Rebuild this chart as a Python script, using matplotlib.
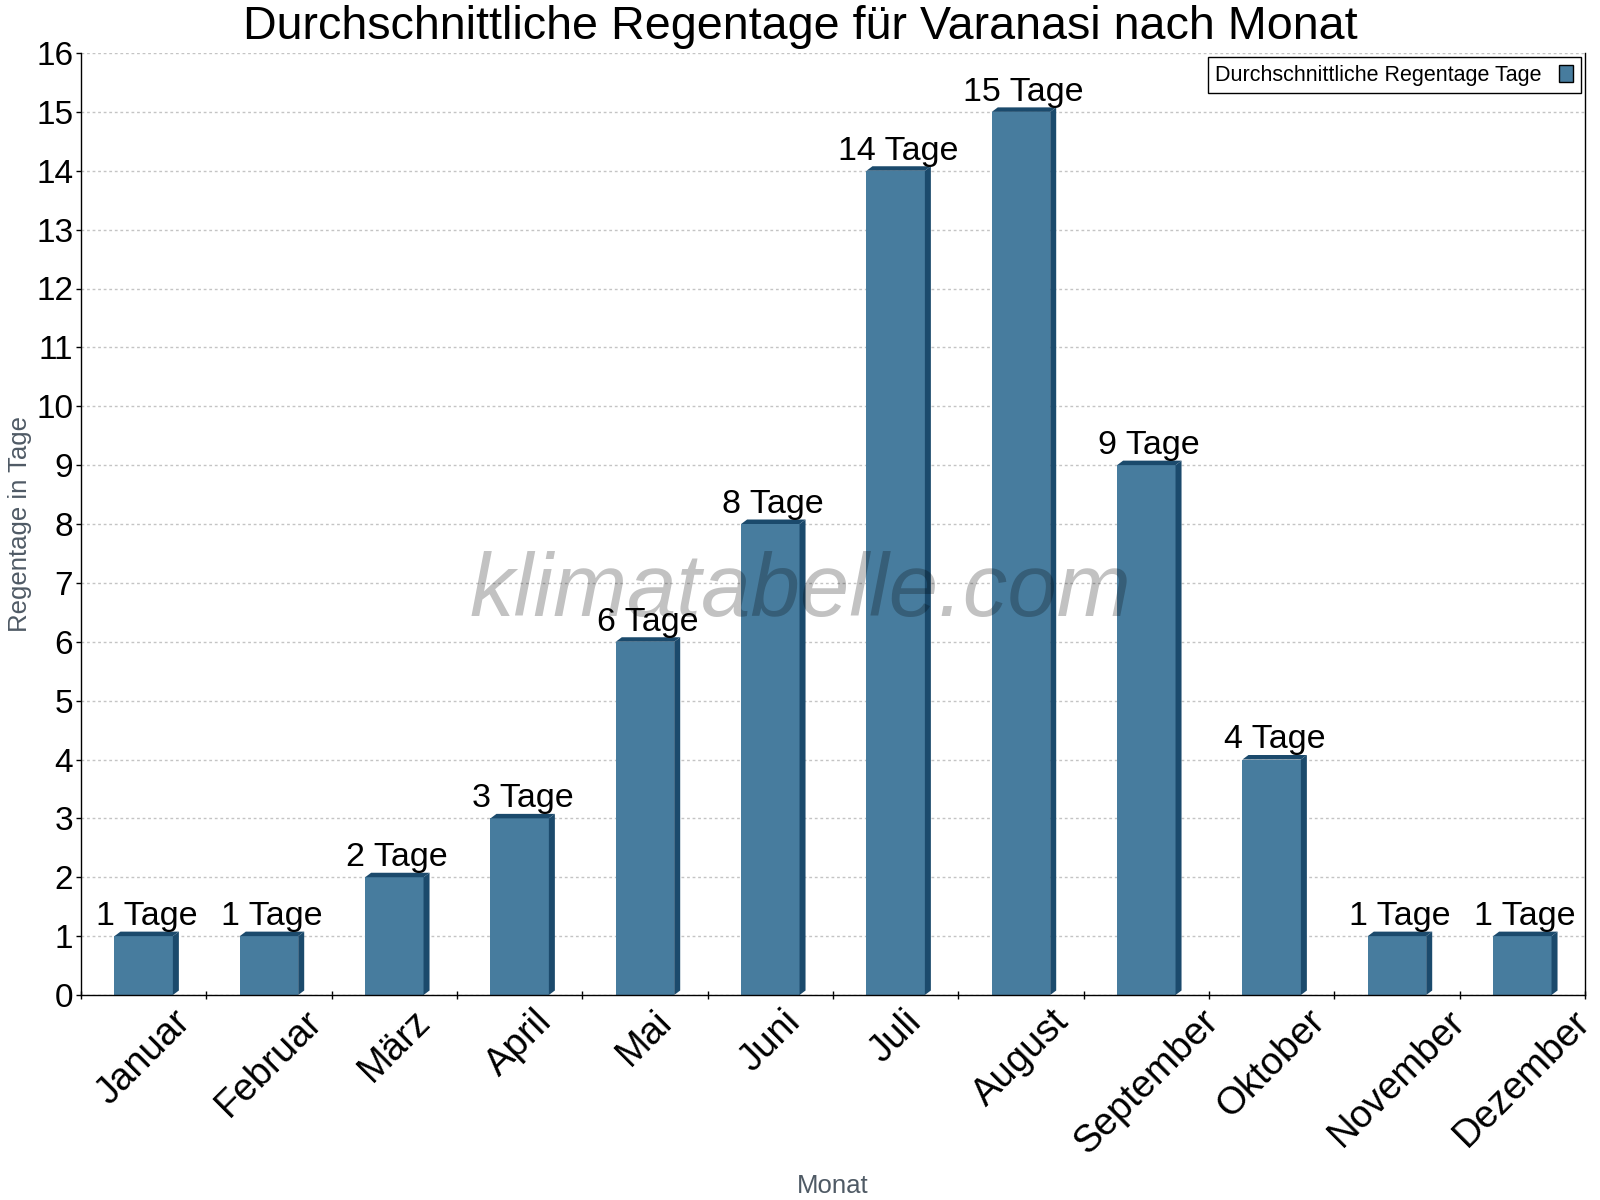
import matplotlib
matplotlib.use('Agg')
import matplotlib.pyplot as plt
from matplotlib.patches import Polygon, Patch

plt.rcParams['font.family'] = ['Liberation Sans', 'DejaVu Sans']

months = ['Januar', 'Februar', 'März', 'April', 'Mai', 'Juni', 'Juli',
          'August', 'September', 'Oktober', 'November', 'Dezember']
rain_days = [1, 1, 2, 3, 6, 8, 14, 15, 9, 4, 1, 1]
bar_labels = [f'{v} Tage' for v in rain_days]
y_ticks = list(range(0, 17))

title = 'Durchschnittliche Regentage für Varanasi nach Monat'
x_label = 'Monat'
y_label = 'Regentage in Tage'
legend_label = 'Durchschnittliche Regentage Tage'
watermark = 'klimatabelle.com'

FRONT = '#477c9e'
DARK = '#1b4a6c'
W, H = 1600, 1200

fig = plt.figure(figsize=(16, 12), dpi=100)
ax_l, ax_r, ax_t, ax_b = 81, 1585, 53, 995
ax = fig.add_axes([ax_l / W, 1 - ax_b / H, (ax_r - ax_l) / W, (ax_b - ax_t) / H])

n = len(months)
xs = list(range(n))
ax.set_xlim(-0.5, n - 0.5)
ax.set_ylim(0, 16)

bw = 0.466
ax.set_axisbelow(True)
bars = ax.bar(xs, rain_days, width=bw, color=FRONT, zorder=2, linewidth=0)

# 3D depth in data units derived from pixel sizes
dx = 6 * (n) / (ax_r - ax_l)
dy = 4.5 * 16 / (ax_b - ax_t)
for rect in bars:
    x0 = rect.get_x()
    x1 = x0 + rect.get_width()
    h = rect.get_height()
    top = Polygon([(x0, h), (x0 + dx, h + dy), (x1 + dx, h + dy), (x1, h)],
                  closed=True, facecolor=DARK, edgecolor='none', zorder=2)
    side = Polygon([(x1, h), (x1 + dx, h + dy), (x1 + dx, dy), (x1, 0)],
                   closed=True, facecolor=DARK, edgecolor='none', zorder=2)
    ax.add_patch(top)
    ax.add_patch(side)

for x, v, lab in zip(xs, rain_days, bar_labels):
    ax.annotate(lab, xy=(x, v), xytext=(2, 8), textcoords='offset points',
                ha='center', va='baseline', fontsize=24.5, color='black', zorder=4)

# grid
ax.set_yticks(y_ticks)
ax.yaxis.grid(True, color='#c4c4c4', linestyle=(0, (2, 2)), linewidth=1)
ax.xaxis.grid(False)

# x ticks: labels at centres, tick marks at boundaries
ax.set_xticks(xs)
ax.set_xticklabels(months, rotation=45, fontsize=27.5)
ax.tick_params(axis='x', which='major', length=0, pad=6)
ax.set_xticks([i - 0.5 for i in range(n + 1)], minor=True)
ax.tick_params(axis='x', which='minor', direction='inout', length=5.8, width=1, color='black')
ax.tick_params(axis='y', which='major', direction='out', length=3.6, width=1,
               labelsize=24, pad=2, color='black')

for s in ['left', 'bottom', 'right']:
    ax.spines[s].set_color('black')
    ax.spines[s].set_linewidth(1.0)
ax.spines['top'].set_visible(False)

# legend
handle = Patch(facecolor=FRONT, edgecolor='black', linewidth=1)
leg = ax.legend([handle], [legend_label], loc='upper right', bbox_to_anchor=(1, 1),
                markerfirst=False, fontsize=15.5, frameon=True, fancybox=False,
                borderaxespad=0.2, handlelength=0.65, handleheight=0.85,
                handletextpad=0.8, borderpad=0.35)
leg.get_frame().set_edgecolor('black')
leg.get_frame().set_linewidth(1)
leg.get_frame().set_alpha(1)

# texts
fig.text(0.5, 1 - 39 / H, title, ha='center', va='baseline', fontsize=33.6, color='black')
fig.text(20 / W, 1 - 524 / H, y_label, rotation=90, ha='center', va='center',
         fontsize=18.5, color='#4f5a65')
fig.text((ax_l + ax_r) / 2 / W, 1 - 1193 / H, x_label, ha='center', va='baseline',
         fontsize=18.5, color='#4f5a65')
fig.text(0.5, 1 - 593 / H, watermark, ha='center', va='center', fontsize=64,
         style='italic', color=(0, 0, 0, 0.24), zorder=10)

fig.savefig('out.png', dpi=100)
